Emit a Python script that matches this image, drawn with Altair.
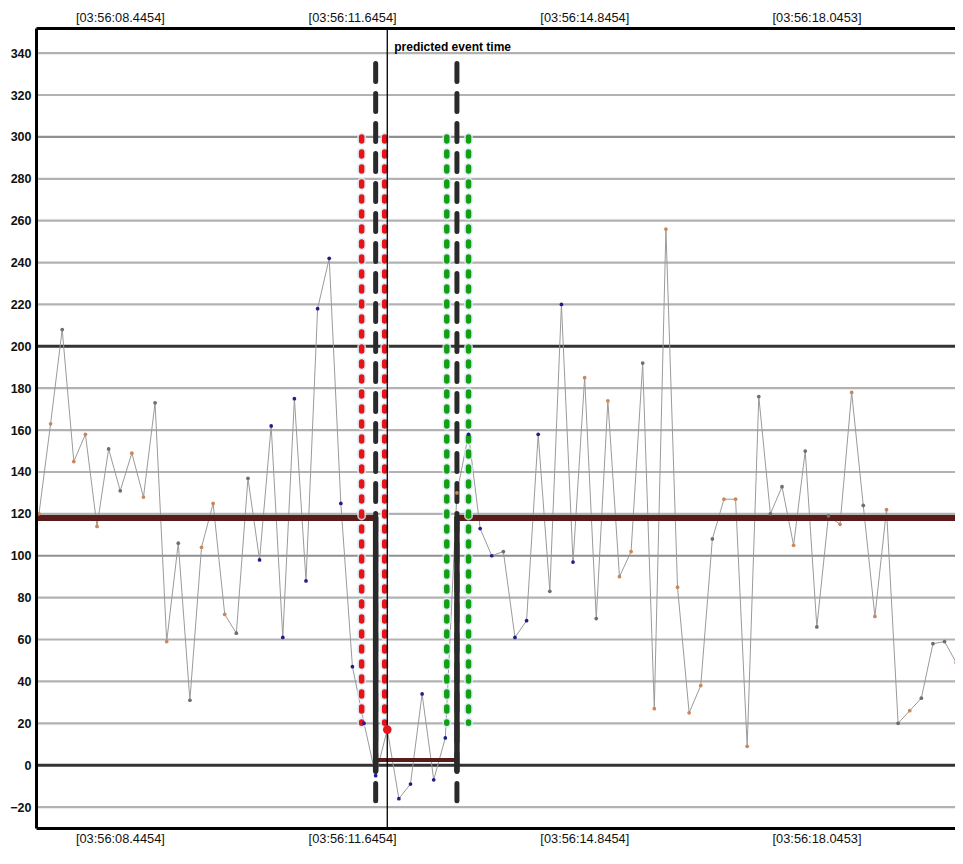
import altair as alt
import pandas as pd

# sample times (seconds after 03:56:00)
times = [7.33, 7.49, 7.65, 7.81, 7.97, 8.13, 8.29, 8.45, 8.61, 8.77,
         8.93, 9.09, 9.25, 9.41, 9.57, 9.73, 9.89, 10.05, 10.21, 10.37,
         10.53, 10.69, 10.85, 11.01, 11.17, 11.33, 11.49, 11.65, 11.81, 11.97,
         12.13, 12.29, 12.45, 12.61, 12.77, 12.93, 13.09, 13.25, 13.41, 13.57,
         13.73, 13.89, 14.05, 14.21, 14.37, 14.53, 14.69, 14.85, 15.01, 15.17,
         15.33, 15.49, 15.65, 15.81, 15.97, 16.13, 16.29, 16.45, 16.61, 16.77,
         16.93, 17.09, 17.25, 17.41, 17.57, 17.73, 17.89, 18.05, 18.21, 18.37,
         18.53, 18.69, 18.85, 19.01, 19.17, 19.33, 19.49, 19.65, 19.81, 19.97,
         20.13]
values = [120, 163, 208, 145, 158, 114, 151, 131, 149, 128,
          173, 59, 106, 31, 104, 125, 72, 63, 137, 98,
          162, 61, 175, 88, 218, 242, 125, 47, 20, -5,
          17, -16, -9, 34, -7, 13, 130, 158, 113, 100,
          102, 61, 69, 158, 83, 220, 97, 185, 70, 174,
          90, 102, 192, 27, 256, 85, 25, 38, 108, 127,
          127, 9, 176, 120, 133, 105, 150, 66, 119, 115,
          178, 124, 71, 122, 20, 26, 32, 58, 59, 49,
          112]
kinds = ["o", "o", "g", "o", "o", "o", "g", "g", "o", "o",
         "g", "o", "g", "g", "o", "o", "o", "g", "g", "b",
         "b", "b", "b", "b", "b", "b", "b", "b", "b", "b",
         "b", "b", "b", "b", "b", "b", "o", "b", "b", "b",
         "g", "b", "b", "b", "g", "b", "b", "o", "g", "o",
         "o", "o", "g", "o", "o", "o", "o", "o", "g", "o",
         "o", "o", "g", "g", "g", "o", "g", "g", "g", "o",
         "o", "g", "o", "o", "g", "o", "g", "g", "g", "o",
         "g"]

x_domain = [7.289, 19.954]
y_domain = [-30, 352]
grid_values = [-20, 0, 20, 40, 60, 80, 100, 120, 140, 160, 180, 200,
               220, 240, 260, 280, 300, 320, 340]
label_times = [8.4454, 11.6454, 14.8454, 18.0453]

baseline_level = 118
window_level = 2.5
window_start = 11.97
window_end = 13.09
event_time = 12.13
event_value = 17
red_band = [11.777, 12.094]
green_band = [12.95, 13.25]
dash_top, dash_bottom = 335, -17
band_top, band_bottom = 300, 20

df = pd.DataFrame({"t": times, "v": values, "k": kinds})

XS = alt.Scale(domain=x_domain, nice=False, zero=False)
YS = alt.Scale(domain=y_domain, nice=False, zero=False)

y_axis = alt.Axis(values=grid_values, ticks=False, grid=False, domainColor="black",
                  domainWidth=3, labelFont="Liberation Sans", labelFontSize=12.5,
                  labelFontWeight="bold", labelColor="#111", labelPadding=5,
                  title=None, zindex=2)


def Y(field="v"):
    return alt.Y(f"{field}:Q", scale=YS, axis=y_axis)


def X(field="t"):
    return alt.X(f"{field}:Q", scale=XS, axis=None)


x_axis_common = dict(values=label_times, labelExpr="'[03:56:' + format(datum.value, '07.4f') + ']'",
                     ticks=False, grid=False, domainColor="black", domainWidth=3,
                     labelFont="Liberation Sans", labelFontSize=12.8, labelColor="#111",
                     labelPadding=4, title=None, zindex=2, labelFlush=False, labelOverlap=False)

grid_df = pd.DataFrame({"v": grid_values})
grid = alt.Chart(grid_df).mark_rule().transform_calculate(
    col="datum.v % 200 == 0 ? '#333333' : (datum.v % 100 == 0 ? '#8f8f8f' : '#b2b2b2')",
    w="datum.v % 200 == 0 ? 3 : 2.2",
).encode(
    y=Y(),
    color=alt.Color("col:N", scale=None),
    strokeWidth=alt.StrokeWidth("w:Q", scale=None),
)

line = alt.Chart(df).mark_line(color="#9a9a9a", strokeWidth=1, clip=True).encode(
    x=alt.X("t:Q", scale=XS, axis=alt.Axis(orient="bottom", **x_axis_common)),
    y=Y(),
)

# invisible layer carrying the top axis
top_axis = alt.Chart(df).mark_point(opacity=0, clip=True).encode(
    x=alt.X("t:Q", scale=XS, axis=alt.Axis(orient="top", **x_axis_common)),
    y=Y(),
)

level_df = pd.DataFrame({
    "x1": [x_domain[0], window_start, window_end],
    "x2": [window_start, window_end, x_domain[1]],
    "v": [baseline_level, window_level, baseline_level],
    "w": [6, 4, 6],
})
levels = alt.Chart(level_df).mark_rule(color="#5a1c1a").encode(
    x=X("x1"), x2="x2:Q", y=Y(), strokeWidth=alt.StrokeWidth("w:Q", scale=None),
)

vert_df = pd.DataFrame({"t": [window_start, window_end],
                        "v": [baseline_level, baseline_level],
                        "v2": [-2.5, -2.5]})
verts = alt.Chart(vert_df).mark_rule(color="#2a2a2a", strokeWidth=5.5, strokeCap="round").encode(
    x=X(), y=Y(), y2="v2:Q")

band_df = pd.DataFrame({"t": red_band + green_band,
                        "c": ["#e61414", "#e61414", "#12a012", "#12a012"],
                        "v": [band_top] * 4, "v2": [band_bottom] * 4})
halo = alt.Chart(band_df).mark_rule(color="#dce8f8", strokeWidth=9, strokeDash=[4, 11],
                                    strokeCap="round", opacity=0.8).encode(x=X(), y=Y(), y2="v2:Q")
bands = alt.Chart(band_df).mark_rule(strokeWidth=5.5, strokeDash=[4, 11], strokeCap="round").encode(
    x=X(), y=Y(), y2="v2:Q", color=alt.Color("c:N", scale=None))

dash_df = pd.DataFrame({"t": [window_start, window_end], "v": [dash_top] * 2, "v2": [dash_bottom] * 2})
dashes = alt.Chart(dash_df).mark_rule(color="#2a2a2a", strokeWidth=5, strokeDash=[18, 12],
                                      strokeCap="round").encode(x=X(), y=Y(), y2="v2:Q")

points = alt.Chart(df).mark_circle(size=14, opacity=1, clip=True).encode(
    x=X(), y=Y(),
    color=alt.Color("k:N", scale=alt.Scale(domain=["o", "b", "g"],
                                           range=["#c9875a", "#1e1e8c", "#6e6e6e"]), legend=None),
)

ev_df = pd.DataFrame({"t": [event_time], "v": [event_value], "label": ["predicted event time"],
                      "lv": [343]})
event_line = alt.Chart(ev_df).mark_rule(color="black", strokeWidth=1.3).encode(x=X())
event_dot = alt.Chart(ev_df).mark_circle(size=75, color="#e8141a", opacity=1).encode(x=X(), y=Y())
event_text = alt.Chart(ev_df).mark_text(align="left", baseline="middle", dx=7, font="Liberation Sans",
                                        fontSize=12, fontWeight="bold", color="black").encode(
    x=X(), y=Y("lv"), text="label:N")

chart = alt.layer(
    grid, line, top_axis, levels, verts, halo, bands, dashes, points,
    event_line, event_dot, event_text,
).resolve_axis(x="independent").properties(
    width=919, height=800,
    autosize=alt.AutoSizeParams(type="none"),
    padding={"left": 28, "top": 20, "right": 0, "bottom": 24},
    background="white",
).configure_view(stroke=None)

chart.save("out.html", embed_options={"renderer": "svg", "actions": False})
